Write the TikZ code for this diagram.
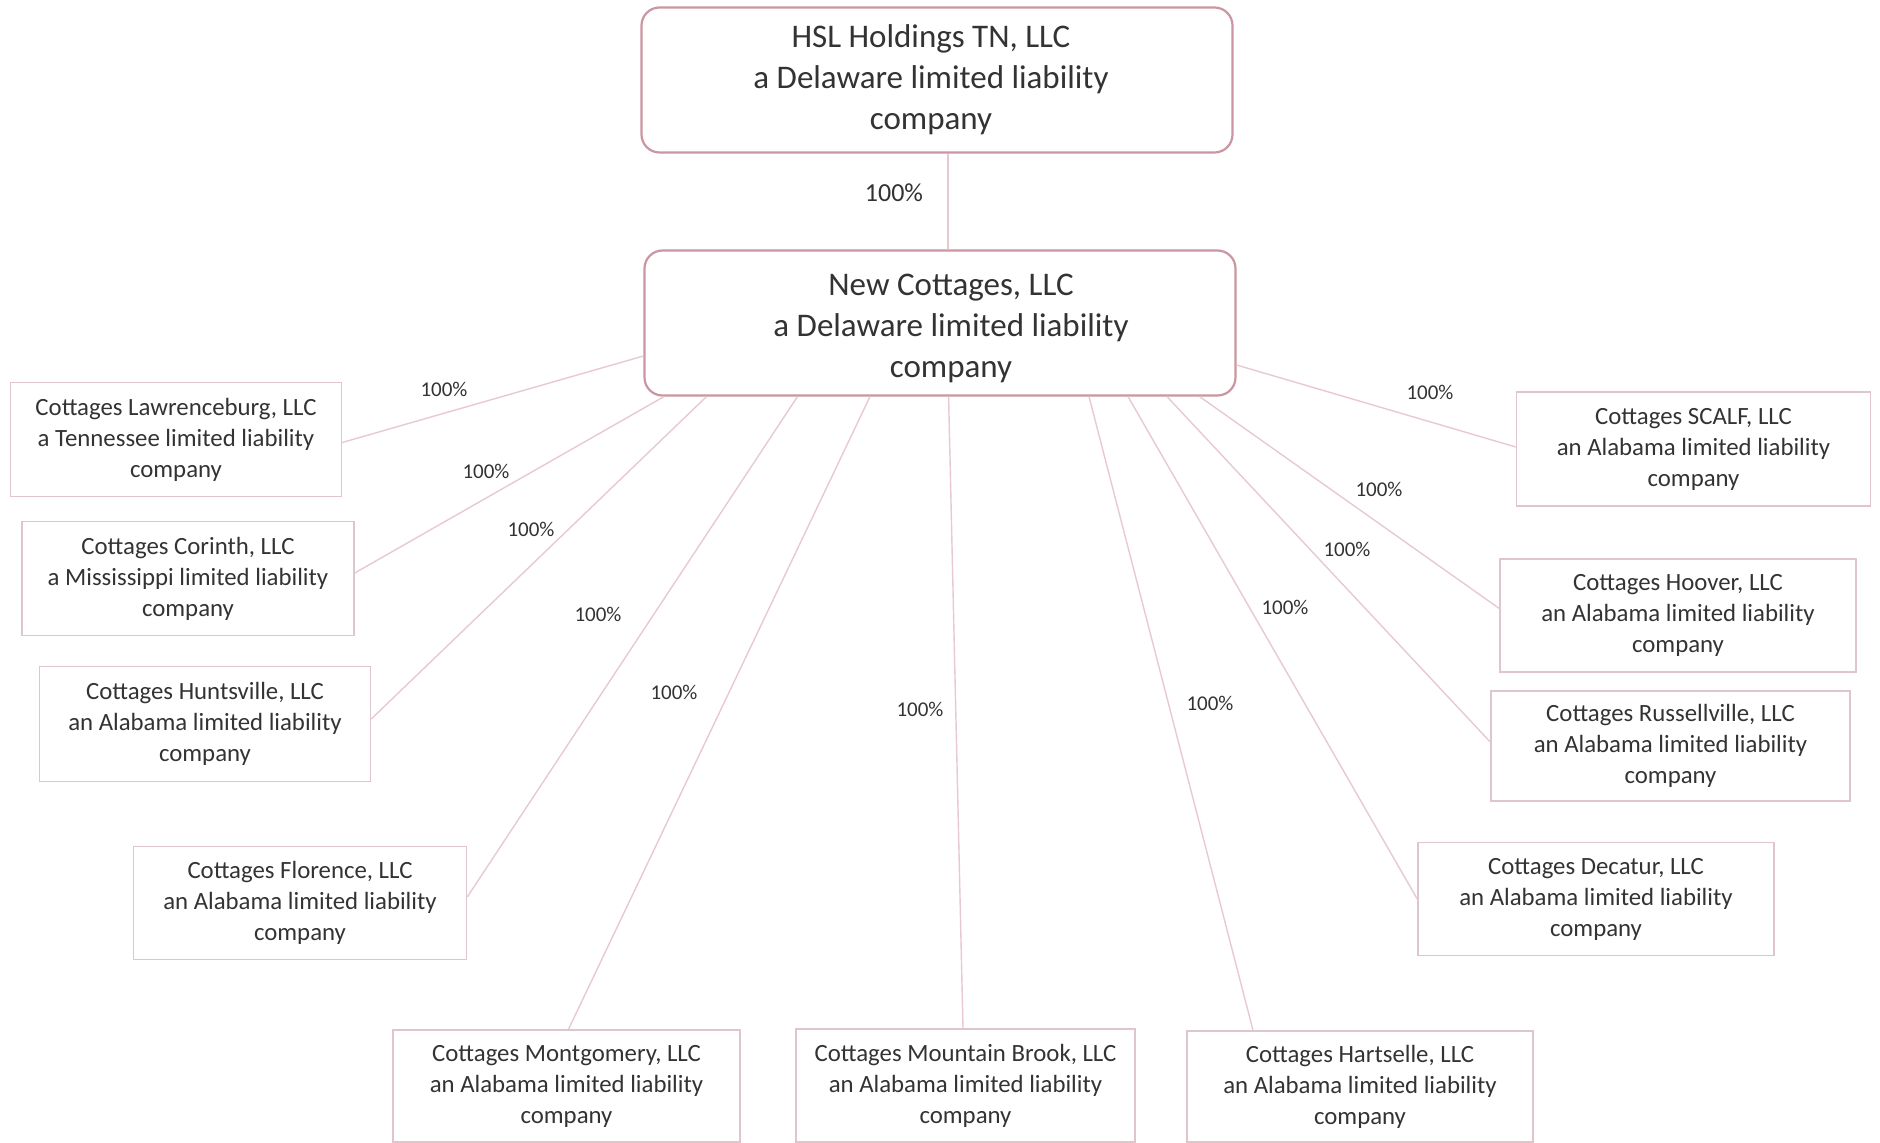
\documentclass[tikz,border=0pt]{standalone}
\usepackage{fontspec}
\setmainfont{Carlito}
\definecolor{boxred}{HTML}{CC95A2}
\definecolor{boxpink}{HTML}{DEC6CC}
\definecolor{linepink}{HTML}{E9C9D1}
\definecolor{txt}{HTML}{333333}
\begin{document}
\begin{tikzpicture}[x=0.5pt,y=-0.5pt,
  topbox/.style={draw=boxred, line width=1.1pt, rounded corners=9pt, minimum width=295.5pt, minimum height=72.5pt, inner sep=0pt},
  toptext/.style={align=center, inner sep=0pt, font=\fontsize{16.5}{20.5}\selectfont, text=txt},
  childbox/.style={draw=boxpink, line width=0.75pt, inner sep=0pt, align=center, font=\fontsize{12.4}{15.5}\selectfont, text=txt},
  link/.style={draw=linepink, line width=0.7pt},
  pct/.style={font=\fontsize{10.5}{12}\selectfont, text=txt, inner sep=0pt},
  toppct/.style={font=\fontsize{13}{15}\selectfont, text=txt, inner sep=0pt}]
\useasboundingbox[fill=white] (0,0) rectangle (1880,1143);

% main boxes
\node[topbox] (hsl) at (937,80) {};
\node[toptext] (hsltext) at (931,80) {HSL Holdings TN, LLC\\a Delaware limited liability\\company};
\node[topbox] (nc) at (940,323) {};
\node[toptext] (nctext) at (951,328) {New Cottages, LLC\\a Delaware limited liability\\company};

% children
\node[childbox, minimum width=165.5pt, minimum height=57pt] (law) at (176,439.5) {Cottages Lawrenceburg, LLC\\a Tennessee limited liability\\company};
\node[childbox, minimum width=166pt, minimum height=57pt] (cor) at (188,578.5) {Cottages Corinth, LLC\\a Mississippi limited liability\\company};
\node[childbox, minimum width=165.5pt, minimum height=57.5pt] (hun) at (205,724) {Cottages Huntsville, LLC\\an Alabama limited liability\\company};
\node[childbox, minimum width=166.5pt, minimum height=56.5pt] (flo) at (300,903) {Cottages Florence, LLC\\an Alabama limited liability\\company};
\node[childbox, minimum width=173.5pt, minimum height=56pt] (mon) at (566.5,1086) {Cottages Montgomery, LLC\\an Alabama limited liability\\company};
\node[childbox, minimum width=169.5pt, minimum height=56.5pt] (mb) at (965.5,1085.5) {Cottages Mountain Brook, LLC\\an Alabama limited liability\\company};
\node[childbox, minimum width=173pt, minimum height=55.5pt] (har) at (1360,1086.5) {Cottages Hartselle, LLC\\an Alabama limited liability\\company};
\node[childbox, minimum width=177pt, minimum height=57pt] (scalf) at (1693.5,449) {Cottages SCALF, LLC\\an Alabama limited liability\\company};
\node[childbox, minimum width=178pt, minimum height=56.5pt] (hoover) at (1678,615.5) {Cottages Hoover, LLC\\an Alabama limited liability\\company};
\node[childbox, minimum width=179.5pt, minimum height=55pt] (russ) at (1670.5,746) {Cottages Russellville, LLC\\an Alabama limited liability\\company};
\node[childbox, minimum width=178pt, minimum height=56.5pt] (dec) at (1596,899) {Cottages Decatur, LLC\\an Alabama limited liability\\company};

% connectors
\draw[link] ([xshift=5.5pt]hsl.south) -- ([xshift=4pt]nc.north);
\draw[link] ([yshift=-16.5pt]nc.west) -- ([yshift=-1.5pt]law.east);
\draw[link] ([xshift=-138pt]nc.south) -- ([yshift=2.75pt]cor.east);
\draw[link] ([xshift=-116.75pt]nc.south) -- ([yshift=2.5pt]hun.east);
\draw[link] ([xshift=-71.25pt]nc.south) -- ([yshift=3pt]flo.east);
\draw[link] ([xshift=-35pt]nc.south) -- ([xshift=1pt]mon.north);
\draw[link] ([xshift=4.3pt]nc.south) -- ([xshift=-1.25pt]mb.north);
\draw[link] ([xshift=74.5pt]nc.south) -- ([xshift=-53.5pt]har.north);
\draw[link] ([xshift=94pt]nc.south) -- (dec.west);
\draw[link] ([xshift=113.5pt]nc.south) -- ([yshift=2pt]russ.west);
\draw[link] ([xshift=129.8pt]nc.south) -- ([yshift=3.5pt]hoover.west);
\draw[link] ([yshift=-21pt]nc.east) -- ([yshift=1pt]scalf.west);

% labels
\node[toppct] (p0) at (894,193) {100\%};
\node[pct] (p1) at (444,389) {100\%};
\node[pct] (p2) at (486,471) {100\%};
\node[pct] (p3) at (531,529) {100\%};
\node[pct] (p4) at (598,614) {100\%};
\node[pct] (p5) at (674,692) {100\%};
\node[pct] (p6) at (920,709) {100\%};
\node[pct] (p7) at (1210,703) {100\%};
\node[pct] (p8) at (1285,607) {100\%};
\node[pct] (p9) at (1347,549) {100\%};
\node[pct] (p10) at (1379,489) {100\%};
\node[pct] (p11) at (1430,392) {100\%};
\end{tikzpicture}
\end{document}
